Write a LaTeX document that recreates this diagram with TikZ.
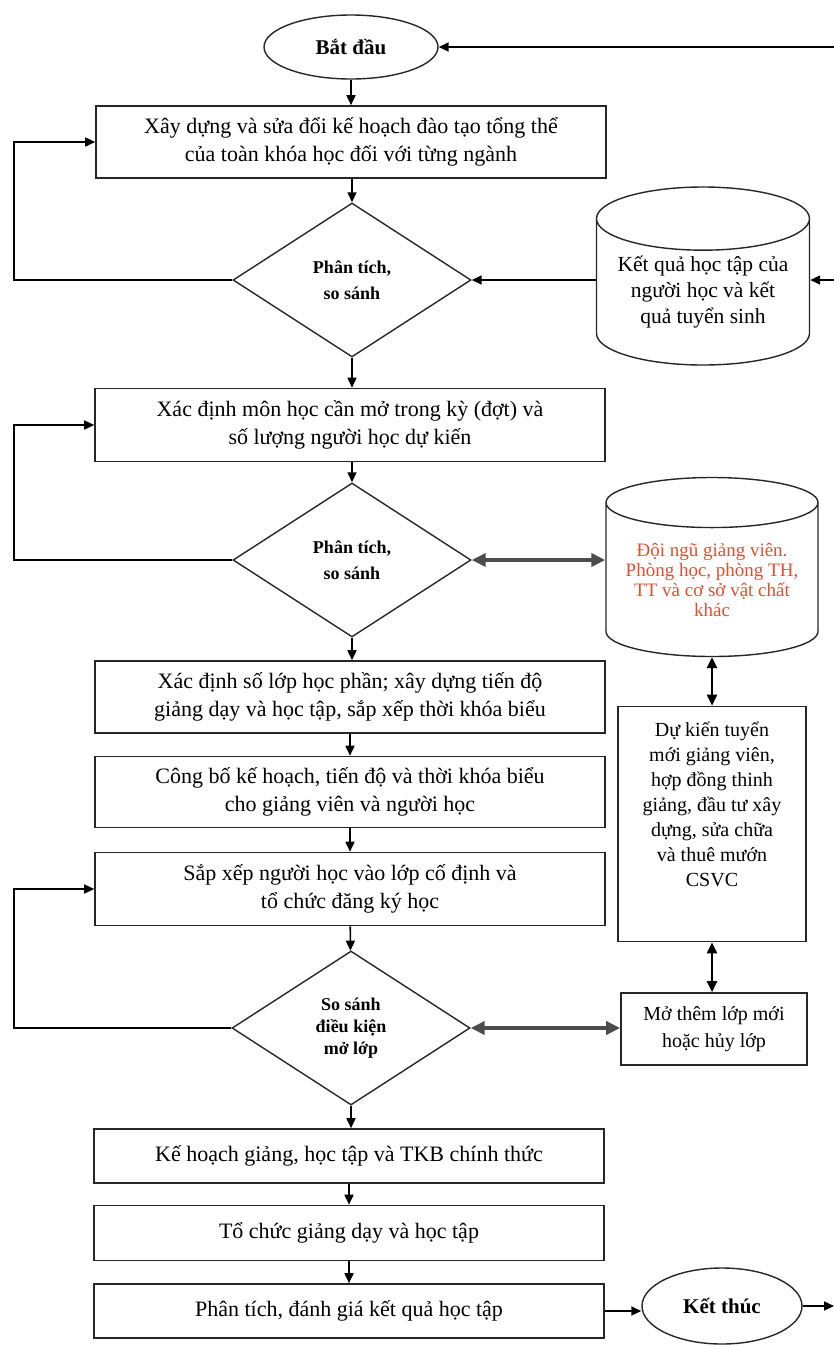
\documentclass[tikz,border=0pt]{standalone}
\usepackage{fontspec}
\setmainfont{Liberation Serif}
\usepackage{xcolor}
\usetikzlibrary{shapes.geometric,arrows.meta,positioning}
\definecolor{redtext}{RGB}{226,78,48}
\tikzset
{
    stepbox/.style  = {rectangle, draw=black!85, line width=1.6pt, align=center, minimum width=510pt, inner sep=0pt, font=\fontsize{22}{28}\selectfont},
    decision/.style = {diamond, draw=black!85, line width=1.4pt, align=center, inner sep=0pt, minimum width=238pt, minimum height=154pt, font=\bfseries\fontsize{18}{26}\selectfont},
    terminal/.style = {ellipse, draw=black!85, line width=1.4pt, inner sep=0pt, font=\bfseries\fontsize{21}{24}\selectfont},
    database/.style = {cylinder, shape border rotate=90, anchor=shape center, draw=black!85, line width=1.4pt, align=center, inner sep=0pt, font=\fontsize{21.5}{26}\selectfont},
    sidebox/.style  = {rectangle, draw=black!85, line width=1.6pt, align=center, inner sep=0pt, font=\fontsize{20}{25}\selectfont},
    flow/.style     = {->, line width=1.6pt},
    twoway/.style   = {{Triangle[length=14pt,width=13pt]}-{Triangle[length=14pt,width=13pt]}, line width=3.5pt, draw=black!70},
    updown/.style   = {{Triangle[length=11pt,width=10pt]}-{Triangle[length=11pt,width=10pt]}, line width=2.4pt}
}

\begin{document}
\begin{tikzpicture}[>={Triangle[length=10pt,width=9pt]}, x=1pt, y=-1pt]
    \useasboundingbox (0,0) rectangle (834,1345);
    \coordinate (leftx) at (14,0);
    \coordinate (rightx) at (834,0);
    % main column
    \node [terminal, minimum width=174pt, minimum height=64pt] (start) at (351,47) {Bắt đầu};
    \node [stepbox, minimum height=72pt] (plan) at (351,142) {Xây dựng và sửa đổi kế hoạch đào tạo tổng thể\\của toàn khóa học đối với từng ngành};
    \node [decision] (check1) at (352,280) {Phân tích,\\so sánh};
    \node [stepbox, minimum height=73pt] (subjects) at (350,425) {Xác định môn học cần mở trong kỳ (đợt) và\\số lượng người học dự kiến};
    \node [decision] (check2) at (352,560) {Phân tích,\\so sánh};
    \node [stepbox, minimum height=72pt] (classes) at (350,697) {Xác định số lớp học phần; xây dựng tiến độ\\giảng dạy và học tập, sắp xếp thời khóa biểu};
    \node [stepbox, minimum height=71pt] (publish) at (350,792) {Công bố kế hoạch, tiến độ và thời khóa biểu\\cho giảng viên và người học};
    \node [stepbox, minimum height=73pt] (arrange) at (350,889) {Sắp xếp người học vào lớp cố định và\\tổ chức đăng ký học};
    \node [decision, font=\bfseries\fontsize{18}{22}\selectfont] (check3) at (351,1028) {So sánh\\điều kiện\\mở lớp};
    \node [stepbox, minimum height=54pt] (official) at (349,1156) {Kế hoạch giảng, học tập và TKB chính thức};
    \node [stepbox, minimum height=55pt] (teach) at (349,1233) {Tổ chức giảng dạy và học tập};
    \node [stepbox, minimum height=54pt] (review) at (349,1311) {Phân tích, đánh giá kết quả học tập};
    \node [terminal, minimum width=160pt, minimum height=76pt] (finish) at (722,1306) {Kết thúc};
    % right column
    \node [database, minimum width=213pt, minimum height=178pt, aspect=0.37] (results) at (703,276) {Kết quả học tập của\\người học và kết\\quả tuyển sinh};
    \node [database, minimum width=212pt, minimum height=179pt, aspect=0.29, text=redtext, font=\fontsize{19}{20}\selectfont] (staff) at (712,567) {Đội ngũ giảng viên.\\Phòng học, phòng TH,\\TT và cơ sở vật chất\\khác};
    \node [sidebox, minimum width=188pt, minimum height=235pt] (hiring) at (712,824) {Dự kiến tuyển\\mới giảng viên,\\hợp đồng thinh\\giảng, đầu tư xây\\dựng, sửa chữa\\và thuê mướn\\CSVC\\[15pt]\mbox{}};
    \node [sidebox, minimum width=186pt, minimum height=72pt, font=\fontsize{20}{27}\selectfont] (openclose) at (714,1029) {Mở thêm lớp mới\\hoặc hủy lớp};

    % connectors
    \draw [flow] (start) -- (plan);
    \draw [flow] (plan.south -| check1) -- (check1);
    \draw [flow] (check1) -- (subjects.north -| check1);
    \draw [flow] (subjects.south -| check2) -- (check2);
    \draw [flow] (check2) -- (classes.north -| check2);
    \draw [flow] (classes) -- (publish);
    \draw [flow] (publish) -- (arrange);
    \draw [flow] (arrange) -- (check3);
    \draw [flow] (check3) -- (official.north -| check3);
    \draw [flow] (official) -- (teach);
    \draw [flow] (teach) -- (review);
    \draw [flow] (review.east) -- (review.east -| finish.west);
    \draw [flow] (finish.east) -- (rightx |- finish.east);
    \draw [flow] (rightx |- start) -- (start.east);
    % loops back on the left
    \draw [flow] (check1.west) -- (check1.west -| leftx) |- (plan.west);
    \draw [flow] (check2.west) -- (check2.west -| leftx) |- (subjects.west);
    \draw [flow] (check3.west) -- (check3.west -| leftx) |- (arrange.west);
    % right side
    \draw [flow] (rightx |- check1) -- (check1 -| results.east);
    \draw [flow] (check1 -| results.west) -- (check1.east);
    \draw [twoway] (check2.east) -- (check2 -| staff.west);
    \draw [updown] (staff.south) -- (hiring.north);
    \draw [updown] (hiring.south) -- (hiring.south |- openclose.north);
    \draw [twoway] (check3.east) -- (check3 -| openclose.west);
\end{tikzpicture}
\end{document}
